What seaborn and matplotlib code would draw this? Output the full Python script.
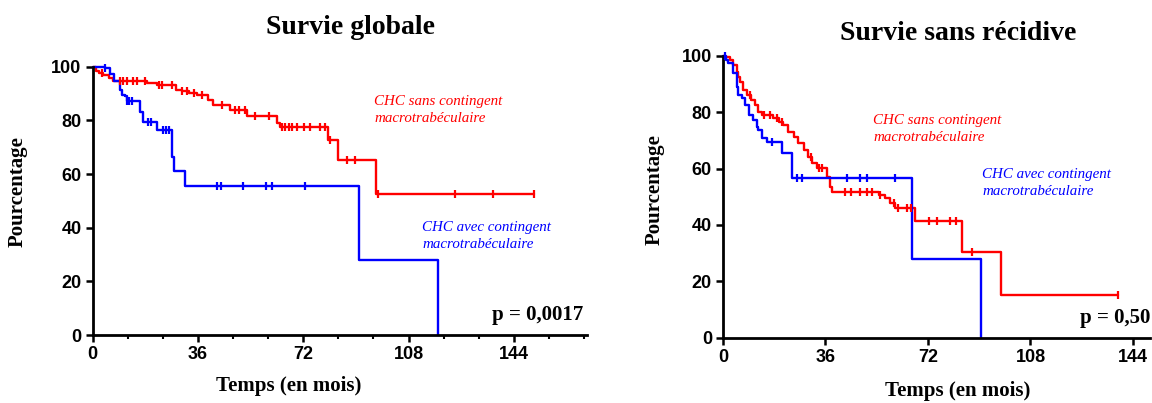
import numpy as np
import pandas as pd
import matplotlib
matplotlib.use("Agg")
import matplotlib.pyplot as plt
import seaborn as sns

# ---------------- data ----------------
# Survie globale
os_red_t = [0, 1, 2, 3.5, 5.5, 7, 18.5, 22, 28.5, 30.5, 33, 35.5, 39.5, 41.3, 47, 52.8, 63, 64.2, 80.5, 83.8, 96.7]
os_red_s = [100, 98.5, 97.5, 96.8, 95.8, 94.6, 93.8, 93.2, 91.4, 90.8, 90.2, 89.5, 87.7, 85.9, 84.0, 81.5, 79.1, 77.5, 72.6, 65.3, 52.6]
os_red_c = [3.1, 9.3, 10.5, 11.6, 13.9, 15, 17.9, 22.5, 23.6, 27, 30.5, 32.2, 34.5, 37.3, 44.2, 48.7,
            49.9, 52.1, 55.6, 60.2, 64.8, 65.8, 67, 68.1, 70, 72.1, 74.4, 77.8, 79.5, 81.3, 87, 89.8,
            97.5, 124, 137, 151]

os_blue_t = [0, 4.2, 5.9, 7.2, 9.3, 9.9, 11, 11.6, 16.2, 17.3, 21.9, 27.1, 27.7, 31.7, 91, 118]
os_blue_s = [100, 99.4, 97.3, 94.5, 91.4, 89.5, 88.9, 87.4, 83.3, 79.5, 76.3, 66.2, 61.3, 55.7, 27.9, 0]
os_blue_c = [4.2, 11.6, 12.4, 13.3, 19, 20, 24, 25, 26, 42.6, 44, 51.3, 59.2, 61.2, 72.5]

# Survie sans recidive
dfs_red_t = [0, 1, 2.5, 3.5, 4.8, 5.4, 6, 7.2, 8.3, 10, 11.2, 12.4, 13.6, 17.5, 19.5, 21.2, 23, 24.8, 26.5,
             28.3, 30, 31.2, 33, 36.5, 37.7, 38.3, 54.7, 57, 58.8, 60.5, 67.5, 84, 97.7]
dfs_red_s = [100, 99.5, 98.5, 96.7, 94.3, 92.5, 90.8, 87.8, 86.0, 84.3, 82.5, 80.1, 79.0, 77.8, 76.6, 75.4,
             73.0, 71.3, 68.9, 66.5, 64.2, 61.8, 60.3, 57.1, 53.5, 51.8, 50.6, 49.4, 47.6, 46.0, 41.5, 30.5, 15.2]
dfs_red_c = [9.4, 14.3, 16.6, 19, 20.6, 30.8, 33.6, 34.8, 43, 44.8, 48, 50.6, 52.3, 55.3, 60, 61.5,
             64.7, 66, 72.3, 75.3, 79.9, 82, 87.5, 138.7]

dfs_blue_t = [0, 1.2, 1.9, 3.6, 4.8, 5.4, 6.6, 7.8, 9, 10.7, 11.9, 12.4, 13.6, 15.4, 20.7, 24.2, 66.5, 90.5]
dfs_blue_s = [100, 98.6, 97.3, 93.7, 89.0, 86.0, 84.9, 82.5, 79.0, 77.2, 74.8, 73.6, 70.7, 69.5, 65.4, 56.5, 28.0, 0]
dfs_blue_c = [0.7, 17.2, 25.9, 27.7, 43.5, 48.3, 50.6, 60.5]

titles = ["Survie globale", "Survie sans récidive"]
p_values = ["p = 0,0017", "p = 0,50"]
y_ticks = [0, 20, 40, 60, 80, 100]
x_ticks = [0, 36, 72, 108, 144]
label_sans = "CHC sans contingent\nmacrotrabéculaire"
label_avec = "CHC avec contingent\nmacrotrabéculaire"

RED = "#FF0000"
BLUE = "#0000FF"

# ---------------- figure ----------------
sns.set_theme(style="ticks")
plt.rcParams["font.family"] = ["Liberation Sans", "DejaVu Sans"]
plt.rcParams["text.color"] = "black"
plt.rcParams["xtick.color"] = "black"
plt.rcParams["ytick.color"] = "black"
plt.rcParams["axes.edgecolor"] = "black"

W, H = 1152, 403
fig = plt.figure(figsize=(W / 100, H / 100), dpi=100)


def fx(px):
    return px / W


def fy(py):
    return 1 - py / H


axL = fig.add_axes([fx(92.7), fy(335), fx(587 - 92.7), fy(66.7) - fy(335)])
axR = fig.add_axes([fx(723), fy(337.7), fx(1150 - 723), fy(55.7) - fy(337.7)])


def step_val(t, times, s):
    times = np.asarray(times)
    s = np.asarray(s)
    idx = np.searchsorted(times, t, side="right") - 1
    return s[np.clip(idx, 0, len(s) - 1)]


def draw_km(ax, times, surv, cens, color):
    t = list(times)
    s = list(surv)
    last = max(cens)
    if last > t[-1]:
        t.append(last)
        s.append(s[-1])
    df = pd.DataFrame({"t": t, "s": s})
    sns.lineplot(data=df, x="t", y="s", ax=ax, drawstyle="steps-post", estimator=None,
                 sort=False, color=color, lw=1.7, clip_on=False)
    cdf = pd.DataFrame({"t": cens, "s": step_val(cens, times, surv)})
    sns.scatterplot(data=cdf, x="t", y="s", ax=ax, marker="|", s=38, linewidth=1.6,
                    color=color, clip_on=False, zorder=3)


draw_km(axL, os_red_t, os_red_s, os_red_c, RED)
draw_km(axL, os_blue_t, os_blue_s, os_blue_c, BLUE)
draw_km(axR, dfs_red_t, dfs_red_s, dfs_red_c, RED)
draw_km(axR, dfs_blue_t, dfs_blue_s, dfs_blue_c, BLUE)

for ax, xmax in ((axL, 169), (axR, 150)):
    ax.set_xlim(0, xmax)
    ax.set_ylim(0, 100)
    ax.set_xticks(x_ticks)
    ax.set_yticks(y_ticks)
    ax.set_xlabel("")
    ax.set_ylabel("")
    sns.despine(ax=ax)
    for sp in ("left", "bottom"):
        ax.spines[sp].set_linewidth(2.0)
        ax.spines[sp].set_color("black")
    ax.tick_params(axis="both", which="major", direction="out", length=5, width=1.8,
                   color="black", labelsize=13, pad=3, labelcolor="black")
    for lab in ax.get_xticklabels() + ax.get_yticklabels():
        lab.set_fontweight("bold")

axL.set_xticks([12, 24, 48, 60, 84, 96, 120, 132, 156, 168], minor=True)
axL.tick_params(axis="x", which="minor", direction="out", length=3, width=1.5, color="black")

serif = ["Liberation Serif", "DejaVu Serif"]

fig.text(fx(351), fy(28), titles[0], ha="center", va="center", family=serif,
         fontweight="bold", fontsize=20)
fig.text(fx(958), fy(33), titles[1], ha="center", va="center", family=serif,
         fontweight="bold", fontsize=20)

fig.text(fx(289), fy(386), "Temps (en mois)", ha="center", va="center", family=serif,
         fontweight="bold", fontsize=15)
fig.text(fx(958), fy(391), "Temps (en mois)", ha="center", va="center", family=serif,
         fontweight="bold", fontsize=15)
fig.text(fx(18), fy(192), "Pourcentage", ha="center", va="center", rotation=90,
         family=serif, fontweight="bold", fontsize=15)
fig.text(fx(655), fy(190), "Pourcentage", ha="center", va="center", rotation=90,
         family=serif, fontweight="bold", fontsize=15)

fig.text(fx(583), fy(315), p_values[0], ha="right", va="center", family=serif,
         fontweight="bold", fontsize=15)
fig.text(fx(1150), fy(318), p_values[1], ha="right", va="center", family=serif,
         fontweight="bold", fontsize=15)

ann = dict(family=serif, style="italic", fontsize=10.8, ha="left", va="center",
           linespacing=1.45)
fig.text(fx(374), fy(110), label_sans, color=RED, **ann)
fig.text(fx(422), fy(236), label_avec, color=BLUE, **ann)
fig.text(fx(873), fy(129), label_sans, color=RED, **ann)
fig.text(fx(982), fy(183), label_avec, color=BLUE, **ann)

fig.savefig("out.png", dpi=100)
